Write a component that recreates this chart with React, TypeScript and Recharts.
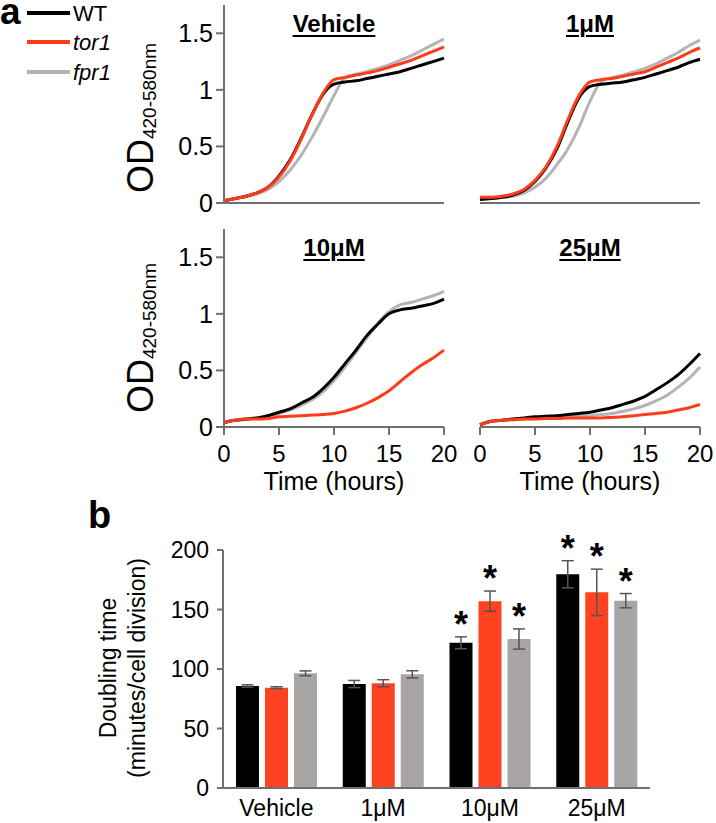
import React from "react"
import { LineChart, Line, XAxis, YAxis, BarChart, Bar, ErrorBar, LabelList } from "recharts"

const FONT = "'Liberation Sans', Arial, Helvetica, sans-serif"

// growth curves, OD420-580
const hours = [0, 1, 2, 3, 4, 5, 6, 7, 8, 9, 10, 11, 12, 13, 14, 15, 16, 17, 18, 19, 20]

const vehicleWT = [0.02, 0.04, 0.06, 0.09, 0.14, 0.24, 0.38, 0.57, 0.78, 0.96, 1.05, 1.07, 1.08, 1.1, 1.12, 1.14, 1.16, 1.19, 1.22, 1.25, 1.28]
const vehicleTor1 = [0.02, 0.04, 0.06, 0.09, 0.14, 0.23, 0.37, 0.56, 0.78, 0.97, 1.09, 1.11, 1.13, 1.15, 1.17, 1.2, 1.23, 1.26, 1.3, 1.34, 1.38]
const vehicleFpr1 = [0.02, 0.04, 0.055, 0.08, 0.12, 0.19, 0.29, 0.42, 0.58, 0.76, 0.95, 1.11, 1.14, 1.16, 1.19, 1.22, 1.26, 1.3, 1.35, 1.4, 1.45]

const oneWT = [0.03, 0.04, 0.05, 0.07, 0.11, 0.19, 0.31, 0.48, 0.72, 0.93, 1.03, 1.05, 1.06, 1.07, 1.09, 1.11, 1.14, 1.17, 1.2, 1.24, 1.27]
const oneTor1 = [0.05, 0.05, 0.06, 0.08, 0.12, 0.2, 0.32, 0.5, 0.74, 0.95, 1.07, 1.09, 1.1, 1.12, 1.14, 1.16, 1.2, 1.24, 1.28, 1.33, 1.37]
const oneFpr1 = [0.03, 0.04, 0.05, 0.06, 0.09, 0.14, 0.22, 0.34, 0.48, 0.67, 0.9, 1.07, 1.11, 1.13, 1.16, 1.19, 1.23, 1.28, 1.33, 1.39, 1.44]

const tenWT = [0.04, 0.06, 0.07, 0.08, 0.1, 0.13, 0.16, 0.21, 0.26, 0.34, 0.44, 0.56, 0.68, 0.81, 0.91, 1.0, 1.035, 1.05, 1.07, 1.09, 1.13]
const tenTor1 = [0.04, 0.06, 0.07, 0.07, 0.075, 0.09, 0.095, 0.1, 0.105, 0.11, 0.12, 0.14, 0.17, 0.21, 0.26, 0.32, 0.4, 0.48, 0.55, 0.61, 0.68]
const tenFpr1 = [0.04, 0.06, 0.07, 0.08, 0.1, 0.12, 0.15, 0.19, 0.24, 0.31, 0.41, 0.53, 0.66, 0.79, 0.92, 1.02, 1.08, 1.1, 1.13, 1.16, 1.2]

const twentyFiveWT = [0.02, 0.05, 0.06, 0.07, 0.08, 0.09, 0.095, 0.1, 0.11, 0.12, 0.13, 0.15, 0.17, 0.2, 0.23, 0.27, 0.33, 0.39, 0.46, 0.55, 0.65]
const twentyFiveTor1 = [0.02, 0.05, 0.06, 0.065, 0.07, 0.07, 0.075, 0.075, 0.08, 0.08, 0.08, 0.08, 0.085, 0.09, 0.1, 0.11, 0.12, 0.13, 0.15, 0.17, 0.2]
const twentyFiveFpr1 = [0.02, 0.05, 0.06, 0.065, 0.07, 0.075, 0.08, 0.085, 0.09, 0.095, 0.1, 0.11, 0.12, 0.14, 0.16, 0.19, 0.23, 0.28, 0.35, 0.43, 0.53]

// doubling time (minutes/cell division)
const treatments = ["Vehicle", "1μM", "10μM", "25μM"]
const doublingWT = [85.7, 87.4, 122, 179.6]
const doublingTor1 = [84.3, 88, 157, 164.4]
const doublingFpr1 = [96.4, 95.5, 125.2, 157.4]
const errWT = [1, 3, 5, 11.4]
const errTor1 = [0.8, 3, 8.5, 19.5]
const errFpr1 = [2, 3, 8.5, 6]
const sigWT = [false, false, true, true]
const sigTor1 = [false, false, true, true]
const sigFpr1 = [false, false, true, true]

const LINE_COLORS = { WT: "#000000", tor1: "#FF3B1A", fpr1: "#B4B4B4" }
const BAR_COLORS = { WT: "#000000", tor1: "#FF4220", fpr1: "#A9A5A4" }
const AXIS = "#707070"

type PanelProps = {
  left: number
  top: number
  title: string
  wt: number[]
  tor1: number[]
  fpr1: number[]
  showY: boolean
  showX: boolean
}

function GrowthPanel({ left, top, title, wt, tor1, fpr1, showY, showX }: PanelProps) {
  const data = hours.map((h, i) => ({ h, WT: wt[i], tor1: tor1[i], fpr1: fpr1[i] }))
  const marginLeft = showY ? 14 : 10
  const yWidth = showY ? 60 : 0
  const marginRight = 20
  const width = marginLeft + yWidth + 220 + marginRight
  const marginTop = showX ? 9 : 5
  const xHeight = showX ? 73 : 20
  const height = marginTop + 198 + xHeight
  const plotLeft = left + marginLeft + yWidth
  return (
    <>
      <div style={{ position: "absolute", left, top }}>
        <LineChart width={width} height={height} data={data} margin={{ top: marginTop, right: marginRight, left: marginLeft, bottom: 0 }}>
          <XAxis
            dataKey="h"
            type="number"
            domain={[0, 20]}
            ticks={[0, 5, 10, 15, 20]}
            interval={0}
            height={xHeight}
            axisLine={{ stroke: AXIS, strokeWidth: 2 }}
            tick={showX ? { fontSize: 24, fill: "#000", fontFamily: FONT } : false}
            tickLine={showX ? { stroke: AXIS, strokeWidth: 2 } : false}
            tickSize={8}
            tickMargin={10}
            label={showX ? { value: "Time (hours)", position: "insideBottom", offset: 10, fontSize: 25, fill: "#000", fontFamily: FONT } : undefined}
          />
          <YAxis
            type="number"
            domain={[0, 1.75]}
            ticks={[0, 0.5, 1, 1.5]}
            interval={0}
            width={yWidth}
            axisLine={{ stroke: AXIS, strokeWidth: 2 }}
            tick={showY ? { fontSize: 25, fill: "#000", fontFamily: FONT } : false}
            tickLine={showY ? { stroke: AXIS, strokeWidth: 2 } : false}
            tickSize={8}
            tickMargin={3}
          />
          <Line type="monotone" dataKey="fpr1" stroke={LINE_COLORS.fpr1} strokeWidth={3} dot={false} isAnimationActive={false} />
          <Line type="monotone" dataKey="WT" stroke={LINE_COLORS.WT} strokeWidth={3} dot={false} isAnimationActive={false} />
          <Line type="monotone" dataKey="tor1" stroke={LINE_COLORS.tor1} strokeWidth={3} dot={false} isAnimationActive={false} />
        </LineChart>
      </div>
      <div
        style={{
          position: "absolute",
          left: plotLeft + 110 - 100,
          top: top + marginTop + 7,
          width: 200,
          textAlign: "center",
          fontSize: 24,
          fontWeight: "bold",
          lineHeight: "24px",
          textDecoration: "underline",
          textDecorationThickness: "2px",
          textUnderlineOffset: "3px",
        }}
      >
        {title}
      </div>
    </>
  )
}

function ODLabel({ cy }: { cy: number }) {
  return (
    <svg style={{ position: "absolute", left: 110, top: cy - 110 }} width={50} height={220}>
      <text transform={`translate(43, 110) rotate(-90)`} textAnchor="middle" fontFamily={FONT} fill="#000">
        <tspan fontSize={36}>OD</tspan>
        <tspan fontSize={19} dy={3}>420-580nm</tspan>
      </text>
    </svg>
  )
}

function Legend() {
  const rows = [
    { key: "WT", label: "WT", italic: false, y: 13 },
    { key: "tor1", label: "tor1", italic: true, y: 42 },
    { key: "fpr1", label: "fpr1", italic: true, y: 72 },
  ] as const
  return (
    <>
      <div style={{ position: "absolute", left: 0, top: 0, fontSize: 37, lineHeight: "24px", fontWeight: "bold" }}>a</div>
      <svg style={{ position: "absolute", left: 0, top: 0 }} width={130} height={95}>
        {rows.map((r) => (
          <g key={r.key}>
            <line x1={27} x2={70} y1={r.y} y2={r.y} stroke={LINE_COLORS[r.key]} strokeWidth={4} />
            <text x={73} y={r.y + 8} fontSize={22} fontStyle={r.italic ? "italic" : "normal"} fontFamily={FONT}>
              {r.label}
            </text>
          </g>
        ))}
      </svg>
    </>
  )
}

const makeStar = (errs: number[], sig: boolean[]) => (props: any) => {
  const vb = props.viewBox || props
  const x = vb.x ?? props.x
  const y = vb.y ?? props.y
  const w = vb.width ?? props.width
  const h = vb.height ?? props.height
  const index = props.index
  const value = Number(props.value)
  if (index == null || !sig[index] || !value) return null
  const top = y - (errs[index] * Math.abs(h)) / value
  return (
    <text x={x + w / 2} y={top} textAnchor="middle" fontSize={36} fontWeight="bold" fontFamily={FONT} fill="#000">
      *
    </text>
  )
}

function DoublingChart() {
  const data = treatments.map((t, i) => ({
    t,
    WT: doublingWT[i],
    WTe: errWT[i],
    tor1: doublingTor1[i],
    tor1e: errTor1[i],
    fpr1: doublingFpr1[i],
    fpr1e: errFpr1[i],
  }))
  return (
    <div style={{ position: "absolute", left: 150, top: 520 }}>
      <BarChart width={520} height={303} data={data} margin={{ top: 30, right: 20, left: 12, bottom: 0 }} barSize={23} barGap={6}>
        <XAxis
          dataKey="t"
          height={35}
          interval={0}
          axisLine={{ stroke: AXIS, strokeWidth: 2 }}
          tickLine={false}
          tickSize={0}
          tickMargin={12}
          tick={{ fontSize: 23, fill: "#000", fontFamily: FONT }}
        />
        <YAxis
          domain={[0, 200]}
          ticks={[0, 50, 100, 150, 200]}
          interval={0}
          width={61}
          axisLine={{ stroke: AXIS, strokeWidth: 2 }}
          tickLine={{ stroke: AXIS, strokeWidth: 2 }}
          tickSize={6}
          tickMargin={8}
          tick={{ fontSize: 23, fill: "#000", fontFamily: FONT }}
        />
        <Bar dataKey="WT" fill={BAR_COLORS.WT} isAnimationActive={false}>
          <ErrorBar dataKey="WTe" width={6} stroke="#555" strokeWidth={1.5} />
          <LabelList dataKey="WT" content={makeStar(errWT, sigWT)} />
        </Bar>
        <Bar dataKey="tor1" fill={BAR_COLORS.tor1} isAnimationActive={false}>
          <ErrorBar dataKey="tor1e" width={6} stroke="#555" strokeWidth={1.5} />
          <LabelList dataKey="tor1" content={makeStar(errTor1, sigTor1)} />
        </Bar>
        <Bar dataKey="fpr1" fill={BAR_COLORS.fpr1} isAnimationActive={false}>
          <ErrorBar dataKey="fpr1e" width={6} stroke="#555" strokeWidth={1.5} />
          <LabelList dataKey="fpr1" content={makeStar(errFpr1, sigFpr1)} />
        </Bar>
      </BarChart>
    </div>
  )
}

export default function App() {
  return (
    <div style={{ position: "absolute", left: 0, top: 0, width: 716, height: 823, background: "#fff", fontFamily: FONT, overflow: "hidden" }}>
      <Legend />
      <ODLabel cy={118} />
      <ODLabel cy={338} />
      <GrowthPanel left={150} top={0} title="Vehicle" wt={vehicleWT} tor1={vehicleTor1} fpr1={vehicleFpr1} showY showX={false} />
      <GrowthPanel left={470} top={0} title="1μM" wt={oneWT} tor1={oneTor1} fpr1={oneFpr1} showY={false} showX={false} />
      <GrowthPanel left={150} top={220} title="10μM" wt={tenWT} tor1={tenTor1} fpr1={tenFpr1} showY showX />
      <GrowthPanel left={470} top={220} title="25μM" wt={twentyFiveWT} tor1={twentyFiveTor1} fpr1={twentyFiveFpr1} showY={false} showX />
      <svg style={{ position: "absolute", left: 0, top: 490 }} width={200} height={330}>
        <text x={88} y={38} fontSize={38} fontWeight="bold" fontFamily={FONT}>b</text>
        <text transform="translate(116, 178) rotate(-90)" textAnchor="middle" fontSize={23} fontFamily={FONT}>Doubling time</text>
        <text transform="translate(145, 178) rotate(-90)" textAnchor="middle" fontSize={23} fontFamily={FONT}>(minutes/cell division)</text>
      </svg>
      <DoublingChart />
    </div>
  )
}
